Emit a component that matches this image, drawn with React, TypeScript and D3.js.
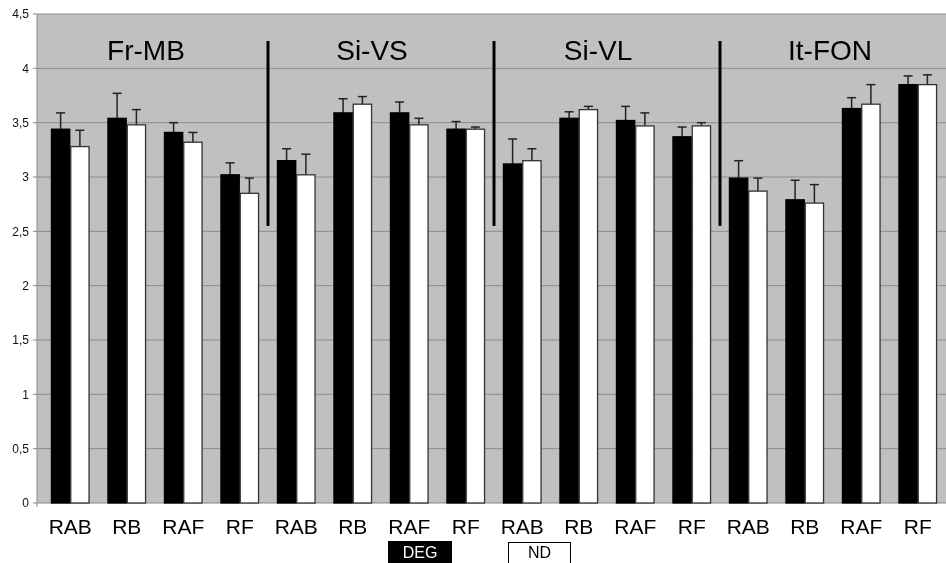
import React from 'react'
import * as d3 from 'd3'

// data
const categories = ['RAB', 'RB', 'RAF', 'RF', 'RAB', 'RB', 'RAF', 'RF', 'RAB', 'RB', 'RAF', 'RF', 'RAB', 'RB', 'RAF', 'RF']
const groups = ['Fr-MB', 'Si-VS', 'Si-VL', 'It-FON']
const degValues = [3.44, 3.54, 3.41, 3.02, 3.15, 3.59, 3.59, 3.44, 3.12, 3.54, 3.52, 3.37, 2.99, 2.79, 3.63, 3.85]
const degErrors = [0.15, 0.23, 0.09, 0.11, 0.11, 0.13, 0.10, 0.07, 0.23, 0.06, 0.13, 0.09, 0.16, 0.18, 0.10, 0.08]
const ndValues = [3.28, 3.48, 3.32, 2.85, 3.02, 3.67, 3.48, 3.44, 3.15, 3.62, 3.47, 3.47, 2.87, 2.76, 3.67, 3.85]
const ndErrors = [0.15, 0.14, 0.09, 0.14, 0.19, 0.07, 0.06, 0.02, 0.11, 0.03, 0.12, 0.03, 0.12, 0.17, 0.18, 0.09]
const yTicks = [0, 0.5, 1, 1.5, 2, 2.5, 3, 3.5, 4, 4.5]

const W = 946
const H = 563
const plotLeft = 37
const plotTop = 14
const plotBottom = 503
const font = '"Liberation Sans", Arial, sans-serif'

export default function App() {
  const idx = categories.map((_, i) => i)
  const x = d3.scaleBand<number>().domain(idx).range([42, 946]).paddingInner(0).paddingOuter(0)
  const y = d3.scaleLinear().domain([0, 4.5]).range([plotBottom, plotTop])
  const bw = 19.3
  const fmt = (v: number) => String(v).replace('.', ',')

  const series = [
    { values: degValues, errors: degErrors, fill: '#000', stroke: '#000', off: -bw },
    { values: ndValues, errors: ndErrors, fill: '#fff', stroke: '#333', off: 0 },
  ]

  return (
    <div style={{ position: 'fixed', left: 0, top: 0 }}>
      <svg width={W} height={H} style={{ display: 'block', fontFamily: font }}>
        <rect x={plotLeft} y={plotTop} width={W - plotLeft} height={plotBottom - plotTop} fill="#c0c0c0" />
        {yTicks.map(t => (
          <g key={t}>
            {t > 0 && <line x1={plotLeft} x2={W} y1={y(t)} y2={y(t)} stroke="#8c8c8c" strokeWidth={1} />}
            <line x1={plotLeft - 4} x2={plotLeft} y1={y(t)} y2={y(t)} stroke="#888" />
            <text x={29} y={y(t)} dy="0.35em" textAnchor="end" fontSize={12} fill="#111">{fmt(t)}</text>
          </g>
        ))}
        <line x1={plotLeft} x2={plotLeft} y1={plotTop} y2={plotBottom + 4} stroke="#888" />
        <line x1={plotLeft} x2={W} y1={plotBottom} y2={plotBottom} stroke="#888" />

        {series.map((s, si) => (
          <g key={si}>
            {s.values.map((v, i) => {
              const cx = x(i)! + x.bandwidth() / 2 + s.off
              const mid = cx + bw / 2
              const top = y(v + s.errors[i])
              return (
                <g key={i}>
                  <line x1={mid} x2={mid} y1={y(v)} y2={top} stroke="#222" strokeWidth={1.5} />
                  <line x1={mid - 4.5} x2={mid + 4.5} y1={top} y2={top} stroke="#222" strokeWidth={1.5} />
                  <rect x={cx + 0.5} y={y(v)} width={bw - 1} height={plotBottom - y(v)} fill={s.fill} stroke={s.stroke} strokeWidth={1.3} />
                </g>
              )
            })}
          </g>
        ))}

        {[1, 2, 3].map(g => (
          <line key={g} x1={x(g * 4)!} x2={x(g * 4)!} y1={41} y2={y(2.55)} stroke="#000" strokeWidth={3} />
        ))}
        {groups.map((g, gi) => (
          <text key={g} x={x(gi * 4 + 2)! - (gi === 3 ? 3 : 9)} y={60} textAnchor="middle" fontSize={28} fill="#000">{g}</text>
        ))}

        {categories.map((c, i) => (
          <text key={i} x={x(i)! + x.bandwidth() / 2} y={534} textAnchor="middle" fontSize={21} fill="#000">{c}</text>
        ))}

        <rect x={388} y={541} width={64} height={26} fill="#000" />
        <text x={420} y={558} textAnchor="middle" fontSize={16} fill="#fff">DEG</text>
        <rect x={508.5} y={542.5} width={62} height={26} fill="#fff" stroke="#000" />
        <text x={539.5} y={558} textAnchor="middle" fontSize={16} fill="#000">ND</text>
      </svg>
    </div>
  )
}
